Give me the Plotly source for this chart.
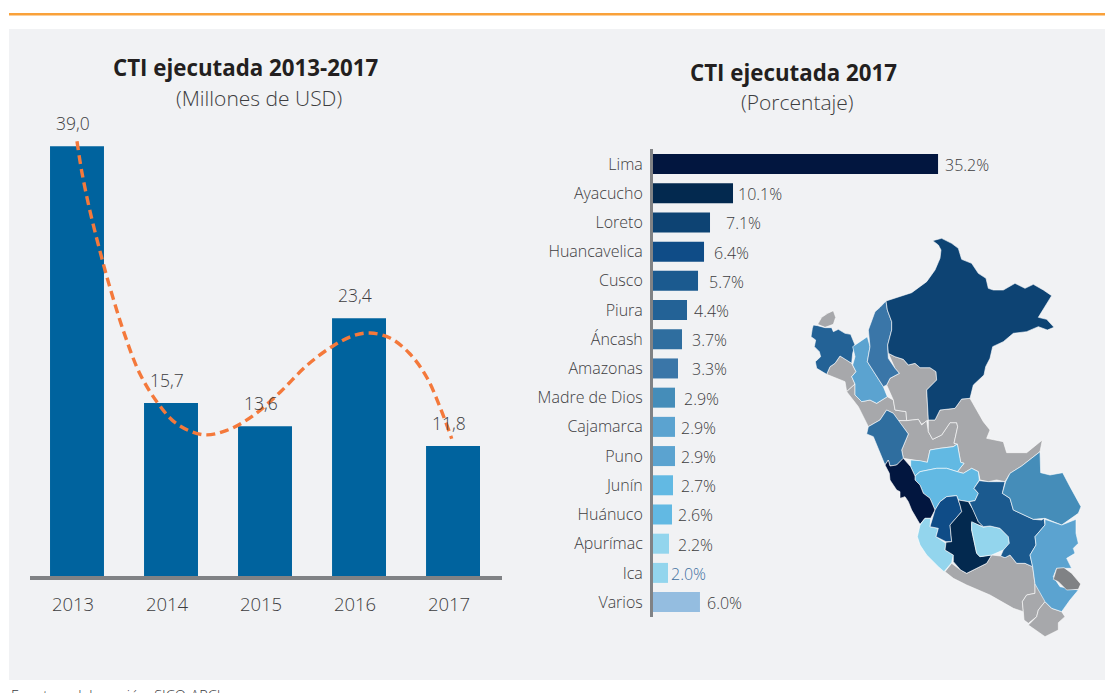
import plotly.graph_objects as go

# ---- data ----
YEARS = [2013, 2014, 2015, 2016, 2017]
EXECUTED = [39.0, 15.7, 13.6, 23.4, 11.8]
EXECUTED_LABELS = ["39,0", "15,7", "13,6", "23,4", "11,8"]
TREND_X = [2013.0, 2013.05, 2013.138, 2013.28, 2013.34, 2013.493, 2013.67, 2013.865, 2014.06, 2014.344,
           2014.593, 2014.876, 2015.16, 2015.444, 2015.727, 2015.94, 2016.117, 2016.33, 2016.543, 2016.72,
           2016.862, 2016.986]
TREND_Y = [39.46, 36.74, 33.12, 28.33, 26.49, 22.26, 18.34, 15.63, 13.82, 12.82,
           13.21, 14.57, 16.68, 19.1, 20.9, 21.81, 22.05, 21.6, 20.15, 18.04,
           15.32, 12.46]

REGIONS = ["Lima", "Ayacucho", "Loreto", "Huancavelica", "Cusco", "Piura", "Áncash", "Amazonas",
           "Madre de Dios", "Cajamarca", "Puno", "Junín", "Huánuco", "Apurímac", "Ica", "Varios"]
SHARE_DRAWN = [35.2, 9.88, 7.04, 6.3, 5.56, 4.2, 3.58, 3.09, 2.72, 2.72, 2.72, 2.47, 2.35, 1.98, 1.85, 5.8]
SHARE_LABELS = ["35.2%", "10.1%", "7.1%", "6.4%", "5.7%", "4.4%", "3.7%", "3.3%",
                "2.9%", "2.9%", "2.9%", "2.7%", "2.6%", "2.2%", "2.0%", "6.0%"]

# region outlines of the map, in map units
TUMBES = [(113,283),(125,262),(143,250),(160,242),(167,262),(160,283),(135,292)]
PIURA = [(100,285),(113,287),(135,293),(155,293),(160,305),(175,298),(195,310),(212,313),(225,345),(218,370),(215,400),(197,388),(180,378),(165,400),(150,410),(140,433),(110,415),(106,395),(122,380),(118,365),(103,350),(107,330),(93,320),(97,295)]
LAMBAYEQUE = [(140,433),(150,410),(165,400),(180,378),(197,388),(215,400),(228,425),(215,440),(225,462),(200,485),(195,455)]
CAJAMARCA = [(262,320),(270,350),(262,395),(285,430),(310,470),(322,500),(290,520),(270,510),(245,515),(225,495),(225,462),(215,440),(228,425),(218,405),(225,380),(218,350),(240,335)]
AMAZONAS = [(318,213),(322,240),(335,275),(335,300),(323,345),(325,385),(345,415),(358,430),(330,445),(320,465),(310,470),(285,430),(262,395),(270,350),(265,300),(285,245),(300,232)]
LORETO = [(458,32),(485,25),(515,40),(535,55),(545,88),(575,100),(595,130),(618,145),(625,175),(640,180),(670,180),(705,160),(735,175),(760,163),(790,180),(815,197),(775,262),(800,268),(822,292),(802,300),(775,290),(740,305),(700,310),(670,335),(638,350),(630,385),(617,410),(612,435),(580,465),(570,505),(545,507),(525,535),(480,540),(465,570),(445,570),(440,480),(455,465),(470,450),(468,425),(450,413),(420,413),(405,400),(385,405),(370,388),(345,380),(325,370),(323,345),(335,300),(335,275),(322,240),(318,213),(395,188),(440,155),(465,120),(480,85),(483,60),(475,45)]
SAN_MARTIN = [(325,370),(345,380),(370,388),(385,405),(405,400),(420,413),(450,413),(468,425),(470,450),(455,465),(440,480),(445,570),(425,583),(415,568),(380,572),(378,545),(345,540),(340,510),(320,465),(330,445),(358,430),(345,415)]
LA_LIBERTAD = [(200,485),(225,462),(225,495),(245,515),(270,510),(290,520),(322,500),(340,510),(345,540),(378,545),(380,572),(355,572),(340,550),(320,540),(300,570),(265,590),(235,530)]
ANCASH = [(260,612),(280,620),(315,705),(325,690),(330,708),(350,705),(370,685),(365,660),(385,612),(355,572),(340,550),(320,540),(300,570),(265,590),(260,605)]
HUANUCO_N = [(355,572),(380,572),(415,568),(425,585),(440,572),(445,605),(458,628),(485,615),(510,578),(530,578),(533,590),(522,640),(532,642),(520,650),(480,655),(450,660),(442,697),(392,690),(370,685),(365,660),(385,612)]
UCAYALI = [(445,570),(465,570),(480,540),(525,535),(545,507),(570,505),(590,540),(610,575),(630,600),(620,625),(670,635),(680,668),(740,668),(770,645),(787,630),(780,665),(725,708),(690,730),(675,755),(650,750),(625,755),(600,750),(595,725),(575,715),(550,730),(532,725),(552,700),(542,697),(532,642),(522,640),(533,590),(530,578),(510,578),(485,615),(458,628),(445,605)]
# the southern outlines are in a second frame, moved with SOUTH_OFFSET
PASCO_S = [(212,90),(240,92),(262,97),(270,60),(300,55),(340,50),(352,42),(362,97),(372,100),(352,125),(320,115),(290,115),(240,125),(225,138),(212,110)]
JUNIN_S = [(225,138),(240,125),(290,115),(320,115),(352,125),(370,130),(395,115),(415,125),(418,150),(402,175),(415,190),(405,212),(385,215),(355,210),(350,197),(320,200),(300,215),(285,240),(270,205),(250,190),(240,165),(225,150)]
LIMA_S = [(135,105),(145,90),(150,108),(170,105),(190,85),(212,110),(225,138),(225,150),(240,165),(250,190),(270,205),(285,240),(272,265),(255,265),(240,283),(215,240),(205,215),(195,200),(180,205),(180,185),(170,180),(150,150),(148,130)]
CALLAO_S = [(180,183),(195,185),(195,200),(183,207)]
ICA_S = [(255,265),(272,265),(270,290),(295,295),(288,320),(318,340),(315,360),(340,375),(335,398),(312,425),(295,410),(260,375),(240,345),(232,320),(240,285)]
HUANCAVELICA_S = [(320,200),(350,197),(360,225),(365,245),(330,285),(335,335),(318,335),(288,320),(295,295),(270,290),(285,240),(300,215)]
AYACUCHO_S = [(355,210),(385,215),(400,240),(415,275),(430,290),(395,278),(395,300),(410,370),(420,380),(455,375),(440,400),(380,430),(362,420),(340,395),(340,375),(315,360),(318,337),(335,335),(330,285),(365,245),(360,225)]
APURIMAC_S = [(395,275),(430,292),(450,288),(480,295),(505,320),(508,340),(490,360),(455,375),(420,380),(410,370),(395,300)]
CUSCO_S = [(418,152),(445,155),(470,155),(495,155),(487,190),(510,205),(520,240),(580,268),(605,270),(612,265),(615,285),(585,320),(588,345),(570,375),(578,410),(555,400),(530,400),(510,375),(495,383),(482,378),(490,360),(508,340),(505,320),(480,295),(450,288),(430,290),(415,275),(400,240),(388,215),(405,212),(415,190),(402,175)]
MADRE_S = [(600,65),(602,128),(630,135),(668,128),(690,170),(723,230),(715,250),(665,285),(615,265),(580,268),(520,240),(510,205),(487,190),(497,155),(510,130),(545,108)]
PUNO_S = [(615,268),(665,285),(708,268),(708,310),(715,340),(700,355),(705,370),(680,385),(695,415),(650,415),(640,440),(660,470),(715,480),(690,510),(665,545),(635,535),(615,515),(585,462),(578,410),(570,375),(588,345),(585,320),(615,285)]
TITICACA_S = [(650,415),(672,413),(695,430),(722,462),(715,478),(680,480),(655,455),(640,448)]
AREQUIPA_S = [(315,425),(335,400),(362,420),(380,430),(440,400),(455,375),(482,378),(495,383),(510,375),(530,400),(555,400),(578,410),(585,462),(585,490),(560,495),(547,515),(550,545),(520,535),(450,495),(380,465),(340,445)]
MOQUEGUA_S = [(585,462),(615,470),(637,500),(615,515),(595,540),(590,560),(565,580),(552,570),(550,545),(547,515),(560,495),(585,490)]
TACNA_S = [(615,515),(635,535),(665,545),(675,560),(655,578),(655,600),(615,620),(565,585),(590,560),(595,540)]

# ---- styles ----
W, H = 1105, 693
FONT = "Open Sans"
TXT = "#3d3d3f"
BLUE = "#00639e"
BAR_COLORS = ["#02163f", "#03294f", "#0d4373", "#0f4c87", "#1b5a8f", "#236296", "#2f6e9f", "#3a76a8",
              "#458db9", "#5ba3d0", "#5ba3d0", "#62b9e3", "#62b9e3", "#93d5ed", "#93d5ed", "#94bde0"]
GREY = "#a7a8ab"
LABEL_GAP = [6, 4, 15, 9, 10, 6, 9, 13, 8, 5, 5, 7, 5, 8, 2, 6]
SOUTH_OFFSET = (180, 600)


def fx(px):
    return px / W


def fy(px):
    return 1 - px / H


fig = go.Figure()

# left chart
fig.add_bar(x=YEARS, y=EXECUTED, width=0.574, marker=dict(color=BLUE, line=dict(width=0)), xaxis="x", yaxis="y",
            hoverinfo="skip", showlegend=False)
fig.add_scatter(x=TREND_X, y=TREND_Y, mode="lines", line=dict(color="#f4793b", width=3.4, dash="9px,5px", shape="spline"),
                xaxis="x", yaxis="y", hoverinfo="skip", showlegend=False, cliponaxis=False)

# right chart
fig.add_bar(x=SHARE_DRAWN, y=REGIONS, orientation="h", width=0.685, marker=dict(color=BAR_COLORS, line=dict(width=0)),
            xaxis="x2", yaxis="y2", hoverinfo="skip", showlegend=False)


# map
def region(points, color, south=False):
    ox, oy = SOUTH_OFFSET if south else (0, 0)
    xs = [p[0] + ox for p in points] + [points[0][0] + ox]
    ys = [p[1] + oy for p in points] + [points[0][1] + oy]
    fig.add_scatter(x=xs, y=ys, mode="lines", fill="toself", fillcolor=color, line=dict(color="#ffffff", width=0.6),
                    xaxis="x3", yaxis="y3", hoverinfo="skip", showlegend=False)


for pts, col in [(TUMBES, GREY), (LAMBAYEQUE, GREY), (LA_LIBERTAD, GREY), (SAN_MARTIN, GREY), (HUANUCO_N, GREY),
                 (UCAYALI, GREY), (PIURA, BAR_COLORS[5]), (CAJAMARCA, BAR_COLORS[9]), (AMAZONAS, BAR_COLORS[7]),
                 (LORETO, BAR_COLORS[2]), (ANCASH, BAR_COLORS[6])]:
    region(pts, col)
for pts, col in [(AREQUIPA_S, GREY), (MOQUEGUA_S, GREY), (TACNA_S, GREY), (CALLAO_S, GREY),
                 (PASCO_S, BAR_COLORS[12]), (JUNIN_S, BAR_COLORS[11]), (LIMA_S, BAR_COLORS[0]),
                 (ICA_S, BAR_COLORS[14]), (HUANCAVELICA_S, BAR_COLORS[3]), (AYACUCHO_S, BAR_COLORS[1]),
                 (APURIMAC_S, BAR_COLORS[13]), (CUSCO_S, BAR_COLORS[4]), (MADRE_S, BAR_COLORS[8]),
                 (PUNO_S, BAR_COLORS[10]), (TITICACA_S, "#808285")]:
    region(pts, col, south=True)

ann = []


def text(x, y, s, size, color=TXT, bold=False, xanchor="center"):
    ann.append(dict(xref="paper", yref="paper", x=fx(x), y=fy(y), text=s, showarrow=False,
                    xanchor=xanchor, yanchor="middle",
                    font=dict(family=FONT, size=size, color=color, weight=700 if bold else 300)))


text(246, 67, "CTI ejecutada 2013-2017", 22.3, "#231f20", True)
text(259, 98, "(Millones de USD)", 21)
text(793, 72, "CTI ejecutada 2017", 22.3, "#231f20", True)
text(797, 102, "(Porcentaje)", 21)
text(9, 695, "Fuente y elaboración: SICO-APCI", 14.5, xanchor="left")

for yr, v, lab in zip(YEARS, EXECUTED, EXECUTED_LABELS):
    ann.append(dict(xref="x", yref="y", x=yr, y=v, text=lab, showarrow=False, xshift=-4, yshift=23, xanchor="center",
                    yanchor="middle", font=dict(family=FONT, size=17.5, color=TXT, weight=300)))
for reg, v, lab, gap in zip(REGIONS, SHARE_DRAWN, SHARE_LABELS, LABEL_GAP):
    ann.append(dict(xref="x2", yref="y2", x=v, y=reg, text=lab, showarrow=False, xshift=gap - 1, yshift=-1,
                    xanchor="left", yanchor="middle",
                    font=dict(family=FONT, size=16, color="#3e6f9f" if reg == "Ica" else TXT, weight=300)))

fig.update_layout(
    width=W, height=H, margin=dict(l=0, r=0, t=0, b=0), paper_bgcolor="#ffffff", plot_bgcolor="rgba(0,0,0,0)",
    barmode="overlay", showlegend=False, annotations=ann,
    shapes=[
        dict(type="rect", xref="paper", yref="paper", x0=fx(9), x1=1, y0=fy(680), y1=fy(29), layer="below",
             fillcolor="#f1f2f4", line=dict(width=0)),
        dict(type="rect", xref="paper", yref="paper", x0=fx(9), x1=1, y0=fy(15.5), y1=fy(13), layer="below",
             fillcolor="#f9a13a", line=dict(width=0)),
    ],
    xaxis=dict(domain=[fx(30), fx(502)], range=[2012.5, 2017.521], tickmode="array", tickvals=YEARS,
               ticktext=[str(y) for y in YEARS], showgrid=False, zeroline=False, showline=True, linecolor="#808285",
               linewidth=4, ticks="", ticklabelstandoff=9, ticklabelshift=-4,
               tickfont=dict(family=FONT, size=18.5, color=TXT, weight=300), anchor="y"),
    yaxis=dict(domain=[fy(576), fy(100)], range=[0, 43.2], visible=False, anchor="x"),
    xaxis2=dict(domain=[fx(653), fx(1000)], range=[0, 42.85], visible=False, anchor="y2"),
    yaxis2=dict(domain=[fy(617), fy(149)], range=[15.51, -0.514], type="category", categoryorder="array",
                categoryarray=REGIONS, showgrid=False, zeroline=False, showline=True, linecolor="#808285", linewidth=3,
                ticks="", ticklabelstandoff=4, tickfont=dict(family=FONT, size=16, color=TXT, weight=300), anchor="x2"),
    xaxis3=dict(domain=[0, 1], range=[-2340, 975], visible=False, anchor="y3"),
    yaxis3=dict(domain=[0, 1], range=[1389, -690], visible=False, anchor="x3"),
)

fig.write_html("out.html", config={"displayModeBar": False},
               post_script="document.body.style.margin='0';document.body.style.overflow='hidden';")
